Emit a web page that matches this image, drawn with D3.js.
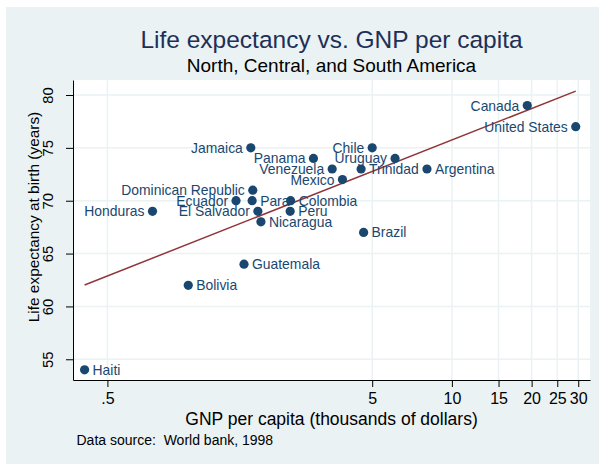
<!DOCTYPE html>
<html>
<head>
<meta charset="utf-8">
<script src="https://cdn.jsdelivr.net/npm/d3@7/dist/d3.min.js"></script>
<style>
  body { margin: 0; background: #fff; }
  text { font-family: "Liberation Sans", Arial, Helvetica, sans-serif; }
</style>
</head>
<body>
<svg width="599" height="464"></svg>
<script>
var countries = ["Haiti", "Bolivia", "Guatemala", "Nicaragua", "Honduras", "El Salvador",
  "Ecuador", "Para", "Dominican Republic", "Colombia", "Peru", "Jamaica", "Panama",
  "Venezuela", "Mexico", "Chile", "Uruguay", "Trinidad", "Argentina", "Brazil",
  "Canada", "United States"];
var gnp = [0.41, 1.01, 1.64, 1.90, 0.74, 1.85, 1.53, 1.76, 1.77, 2.46, 2.45, 1.74, 3.00,
  3.53, 3.86, 5.00, 6.10, 4.54, 8.05, 4.64, 19.26, 29.35];
var lexp = [54, 62, 64, 68, 69, 69, 70, 70, 71, 70, 69, 75, 74, 73, 72, 75, 74, 73, 73, 67,
  79, 77];

var xTicks = [0.5, 5, 10, 15, 20, 25, 30],
    xTickLabels = [".5", "5", "10", "15", "20", "25", "30"],
    yTicks = [55, 60, 65, 70, 75, 80];

var svg = d3.select("svg"),
    margin = {top: 80, right: 9, bottom: 84, left: 73},
    width = svg.attr("width") - margin.left - margin.right,
    height = svg.attr("height") - margin.top - margin.bottom;

var navy = "#1a476f", maroon = "#90353b", bg = "#eaf2f3";

// labels that sit on the left of their marker
var leftLabel = ["Honduras", "El Salvador", "Ecuador", "Dominican Republic", "Jamaica",
  "Panama", "Venezuela", "Mexico", "Chile", "Uruguay", "Canada", "United States"];

var data = countries.map(function(c, i) { return {name: c, gnp: gnp[i], lexp: lexp[i]}; });

svg.append("rect").attr("x", 6).attr("y", 7).attr("width", 593).attr("height", 457)
    .attr("fill", bg);

var g = svg.append("g").attr("transform", "translate(" + margin.left + "," + margin.top + ")");

g.append("rect").attr("width", width).attr("height", height).attr("fill", "#fff");

var x = d3.scaleLog().domain([0.3707, 33.23]).range([0, width]),
    y = d3.scaleLinear().domain([53.04, 81.42]).range([height, 0]);

// grid
g.selectAll(".vgrid").data(xTicks).enter().append("line")
    .attr("x1", function(d) { return x(d); }).attr("x2", function(d) { return x(d); })
    .attr("y1", 0).attr("y2", height)
    .attr("stroke", bg).attr("stroke-width", 1.5);
g.selectAll(".hgrid").data(yTicks).enter().append("line")
    .attr("y1", function(d) { return y(d); }).attr("y2", function(d) { return y(d); })
    .attr("x1", 0).attr("x2", width)
    .attr("stroke", bg).attr("stroke-width", 1.5);

// fitted line, lexp on log10(gnp)
var lx = data.map(function(d) { return Math.log10(d.gnp); }),
    mx = d3.mean(lx), my = d3.mean(lexp),
    sxy = d3.sum(lx, function(v, i) { return (v - mx) * (lexp[i] - my); }),
    sxx = d3.sum(lx, function(v) { return (v - mx) * (v - mx); }),
    b = sxy / sxx, a = my - b * mx;
var ext = d3.extent(gnp);
var fit = d3.line()
    .x(function(d) { return x(d); })
    .y(function(d) { return y(a + b * Math.log10(d)); });
g.append("path")
    .attr("d", fit(ext))
    .attr("fill", "none")
    .attr("stroke", maroon)
    .attr("stroke-width", 1.5);

// markers and labels
var pts = g.selectAll(".pt").data(data).enter().append("g")
    .attr("transform", function(d) { return "translate(" + x(d.gnp) + "," + y(d.lexp) + ")"; });
pts.append("circle").attr("r", 4.6).attr("fill", navy);
pts.append("text")
    .attr("x", function(d) { return leftLabel.indexOf(d.name) >= 0 ? -8 : 8; })
    .attr("dy", "0.36em")
    .attr("text-anchor", function(d) { return leftLabel.indexOf(d.name) >= 0 ? "end" : "start"; })
    .attr("fill", navy)
    .style("font-size", "13.9px")
    .text(function(d) { return d.name; });

// axes
var xAxis = g.append("g")
    .attr("transform", "translate(0," + height + ")")
    .call(d3.axisBottom(x).tickValues(xTicks)
      .tickFormat(function(d, i) { return xTickLabels[i]; })
      .tickSize(7).tickSizeOuter(0).tickPadding(6));
xAxis.select(".domain").attr("stroke", "#000");
xAxis.selectAll(".tick line").attr("stroke", "#000");
xAxis.selectAll("text").attr("fill", "#000")
    .attr("dy", null).attr("y", 24.4)
    .style("font-size", "16px").style("font-family", "'Liberation Sans', Arial, sans-serif");

var yAxis = g.append("g")
    .call(d3.axisLeft(y).tickValues(yTicks).tickFormat(d3.format("d"))
      .tickSize(7).tickSizeOuter(0));
yAxis.select(".domain").attr("stroke", "#000");
yAxis.selectAll(".tick line").attr("stroke", "#000");
yAxis.selectAll("text")
    .attr("x", null).attr("dy", null)
    .attr("text-anchor", "middle")
    .attr("transform", "translate(-20,0) rotate(-90)")
    .attr("fill", "#000")
    .style("font-size", "14.8px").style("font-family", "'Liberation Sans', Arial, sans-serif");

// titles
svg.append("text")
    .attr("x", 331.5).attr("y", 47.5)
    .attr("text-anchor", "middle")
    .attr("fill", "#1e3057")
    .style("font-size", "24.5px")
    .text("Life expectancy vs. GNP per capita");
svg.append("text")
    .attr("x", 331.5).attr("y", 71.5)
    .attr("text-anchor", "middle")
    .attr("fill", "#000")
    .style("font-size", "19px")
    .text("North, Central, and South America");
svg.append("text")
    .attr("x", 331.5).attr("y", 424.5)
    .attr("text-anchor", "middle")
    .attr("fill", "#000")
    .style("font-size", "17.5px")
    .text("GNP per capita (thousands of dollars)");
svg.append("text")
    .attr("transform", "translate(39,217) rotate(-90)")
    .attr("text-anchor", "middle")
    .attr("fill", "#000")
    .style("font-size", "15.4px")
    .text("Life expectancy at birth (years)");
svg.append("text")
    .attr("x", 76.5).attr("y", 445)
    .attr("fill", "#000")
    .style("font-size", "14px")
    .style("white-space", "pre")
    .text("Data source:  World bank, 1998");
</script>
</body>
</html>
